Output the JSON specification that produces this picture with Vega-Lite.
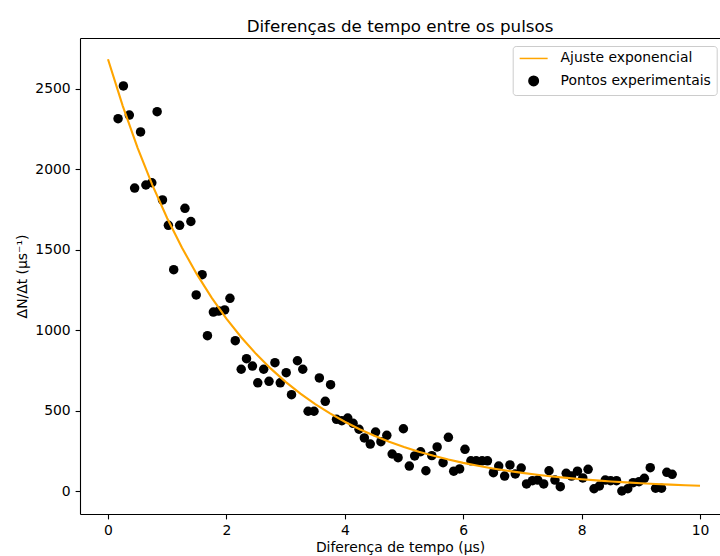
{
  "$schema": "https://vega.github.io/schema/vega-lite/v6.json",
  "autosize": "none",
  "width": 640,
  "height": 476,
  "padding": {"left": 80, "top": 38, "right": 0, "bottom": 42},
  "background": "white",
  "title": {"text": "Diferenças de tempo entre os pulsos", "font": "DejaVu Sans", "fontSize": 16.7, "fontWeight": "normal", "color": "black", "anchor": "middle", "offset": 2.5},
  "config": {
    "view": {"stroke": null},
    "font": "DejaVu Sans",
    "axis": {"grid": false, "domainColor": "black", "domainWidth": 1.1, "tickColor": "black", "tickWidth": 1.1, "tickSize": 4.9, "labelPadding": 4.9, "labelFont": "DejaVu Sans", "labelFontSize": 13.9, "labelColor": "black", "titleFont": "DejaVu Sans", "titleFontSize": 13.9, "titleFontWeight": "normal", "titleColor": "black", "titlePadding": 5.6}
  },
  "datasets": {
    "pontos": [
      {"t": 0.17, "n": 2315, "serie": "Pontos experimentais"},
      {"t": 0.26, "n": 2519, "serie": "Pontos experimentais"},
      {"t": 0.36, "n": 2338, "serie": "Pontos experimentais"},
      {"t": 0.45, "n": 1884, "serie": "Pontos experimentais"},
      {"t": 0.55, "n": 2233, "serie": "Pontos experimentais"},
      {"t": 0.64, "n": 1903, "serie": "Pontos experimentais"},
      {"t": 0.74, "n": 1917, "serie": "Pontos experimentais"},
      {"t": 0.83, "n": 2359, "serie": "Pontos experimentais"},
      {"t": 0.92, "n": 1810, "serie": "Pontos experimentais"},
      {"t": 1.02, "n": 1652, "serie": "Pontos experimentais"},
      {"t": 1.11, "n": 1376, "serie": "Pontos experimentais"},
      {"t": 1.21, "n": 1652, "serie": "Pontos experimentais"},
      {"t": 1.30, "n": 1758, "serie": "Pontos experimentais"},
      {"t": 1.40, "n": 1676, "serie": "Pontos experimentais"},
      {"t": 1.49, "n": 1219, "serie": "Pontos experimentais"},
      {"t": 1.59, "n": 1345, "serie": "Pontos experimentais"},
      {"t": 1.68, "n": 966, "serie": "Pontos experimentais"},
      {"t": 1.78, "n": 1113, "serie": "Pontos experimentais"},
      {"t": 1.87, "n": 1119, "serie": "Pontos experimentais"},
      {"t": 1.97, "n": 1126, "serie": "Pontos experimentais"},
      {"t": 2.06, "n": 1198, "serie": "Pontos experimentais"},
      {"t": 2.15, "n": 935, "serie": "Pontos experimentais"},
      {"t": 2.25, "n": 757, "serie": "Pontos experimentais"},
      {"t": 2.34, "n": 823, "serie": "Pontos experimentais"},
      {"t": 2.44, "n": 777, "serie": "Pontos experimentais"},
      {"t": 2.53, "n": 673, "serie": "Pontos experimentais"},
      {"t": 2.63, "n": 757, "serie": "Pontos experimentais"},
      {"t": 2.72, "n": 682, "serie": "Pontos experimentais"},
      {"t": 2.82, "n": 798, "serie": "Pontos experimentais"},
      {"t": 2.91, "n": 673, "serie": "Pontos experimentais"},
      {"t": 3.01, "n": 736, "serie": "Pontos experimentais"},
      {"t": 3.10, "n": 599, "serie": "Pontos experimentais"},
      {"t": 3.20, "n": 810, "serie": "Pontos experimentais"},
      {"t": 3.29, "n": 757, "serie": "Pontos experimentais"},
      {"t": 3.38, "n": 496, "serie": "Pontos experimentais"},
      {"t": 3.48, "n": 496, "serie": "Pontos experimentais"},
      {"t": 3.57, "n": 703, "serie": "Pontos experimentais"},
      {"t": 3.67, "n": 558, "serie": "Pontos experimentais"},
      {"t": 3.76, "n": 661, "serie": "Pontos experimentais"},
      {"t": 3.86, "n": 446, "serie": "Pontos experimentais"},
      {"t": 3.95, "n": 437, "serie": "Pontos experimentais"},
      {"t": 4.05, "n": 454, "serie": "Pontos experimentais"},
      {"t": 4.14, "n": 421, "serie": "Pontos experimentais"},
      {"t": 4.24, "n": 384, "serie": "Pontos experimentais"},
      {"t": 4.33, "n": 330, "serie": "Pontos experimentais"},
      {"t": 4.43, "n": 292, "serie": "Pontos experimentais"},
      {"t": 4.52, "n": 367, "serie": "Pontos experimentais"},
      {"t": 4.61, "n": 307, "serie": "Pontos experimentais"},
      {"t": 4.71, "n": 346, "serie": "Pontos experimentais"},
      {"t": 4.80, "n": 230, "serie": "Pontos experimentais"},
      {"t": 4.90, "n": 207, "serie": "Pontos experimentais"},
      {"t": 4.99, "n": 387, "serie": "Pontos experimentais"},
      {"t": 5.09, "n": 155, "serie": "Pontos experimentais"},
      {"t": 5.18, "n": 218, "serie": "Pontos experimentais"},
      {"t": 5.28, "n": 244, "serie": "Pontos experimentais"},
      {"t": 5.37, "n": 126, "serie": "Pontos experimentais"},
      {"t": 5.47, "n": 220, "serie": "Pontos experimentais"},
      {"t": 5.56, "n": 274, "serie": "Pontos experimentais"},
      {"t": 5.66, "n": 176, "serie": "Pontos experimentais"},
      {"t": 5.75, "n": 334, "serie": "Pontos experimentais"},
      {"t": 5.84, "n": 123, "serie": "Pontos experimentais"},
      {"t": 5.94, "n": 137, "serie": "Pontos experimentais"},
      {"t": 6.03, "n": 259, "serie": "Pontos experimentais"},
      {"t": 6.13, "n": 188, "serie": "Pontos experimentais"},
      {"t": 6.22, "n": 188, "serie": "Pontos experimentais"},
      {"t": 6.32, "n": 188, "serie": "Pontos experimentais"},
      {"t": 6.41, "n": 188, "serie": "Pontos experimentais"},
      {"t": 6.51, "n": 114, "serie": "Pontos experimentais"},
      {"t": 6.60, "n": 155, "serie": "Pontos experimentais"},
      {"t": 6.70, "n": 93, "serie": "Pontos experimentais"},
      {"t": 6.79, "n": 162, "serie": "Pontos experimentais"},
      {"t": 6.88, "n": 106, "serie": "Pontos experimentais"},
      {"t": 6.98, "n": 143, "serie": "Pontos experimentais"},
      {"t": 7.07, "n": 44, "serie": "Pontos experimentais"},
      {"t": 7.17, "n": 64, "serie": "Pontos experimentais"},
      {"t": 7.26, "n": 68, "serie": "Pontos experimentais"},
      {"t": 7.36, "n": 44, "serie": "Pontos experimentais"},
      {"t": 7.45, "n": 126, "serie": "Pontos experimentais"},
      {"t": 7.55, "n": 68, "serie": "Pontos experimentais"},
      {"t": 7.64, "n": 27, "serie": "Pontos experimentais"},
      {"t": 7.74, "n": 110, "serie": "Pontos experimentais"},
      {"t": 7.83, "n": 93, "serie": "Pontos experimentais"},
      {"t": 7.93, "n": 123, "serie": "Pontos experimentais"},
      {"t": 8.02, "n": 81, "serie": "Pontos experimentais"},
      {"t": 8.11, "n": 135, "serie": "Pontos experimentais"},
      {"t": 8.21, "n": 14, "serie": "Pontos experimentais"},
      {"t": 8.30, "n": 31, "serie": "Pontos experimentais"},
      {"t": 8.40, "n": 68, "serie": "Pontos experimentais"},
      {"t": 8.49, "n": 64, "serie": "Pontos experimentais"},
      {"t": 8.59, "n": 64, "serie": "Pontos experimentais"},
      {"t": 8.68, "n": 0, "serie": "Pontos experimentais"},
      {"t": 8.78, "n": 14, "serie": "Pontos experimentais"},
      {"t": 8.87, "n": 52, "serie": "Pontos experimentais"},
      {"t": 8.97, "n": 58, "serie": "Pontos experimentais"},
      {"t": 9.06, "n": 79, "serie": "Pontos experimentais"},
      {"t": 9.16, "n": 145, "serie": "Pontos experimentais"},
      {"t": 9.25, "n": 17, "serie": "Pontos experimentais"},
      {"t": 9.35, "n": 17, "serie": "Pontos experimentais"},
      {"t": 9.44, "n": 116, "serie": "Pontos experimentais"},
      {"t": 9.53, "n": 104, "serie": "Pontos experimentais"}
    ],
    "ajuste": [
      {"t": 0.0, "n": 2685, "serie": "Ajuste exponencial"},
      {"t": 0.25, "n": 2393.6, "serie": "Ajuste exponencial"},
      {"t": 0.5, "n": 2133.9, "serie": "Ajuste exponencial"},
      {"t": 0.75, "n": 1902.5, "serie": "Ajuste exponencial"},
      {"t": 1.0, "n": 1696.2, "serie": "Ajuste exponencial"},
      {"t": 1.25, "n": 1512.3, "serie": "Ajuste exponencial"},
      {"t": 1.5, "n": 1348.5, "serie": "Ajuste exponencial"},
      {"t": 1.75, "n": 1202.5, "serie": "Ajuste exponencial"},
      {"t": 2.0, "n": 1072.3, "serie": "Ajuste exponencial"},
      {"t": 2.25, "n": 956.3, "serie": "Ajuste exponencial"},
      {"t": 2.5, "n": 853.0, "serie": "Ajuste exponencial"},
      {"t": 2.75, "n": 760.9, "serie": "Ajuste exponencial"},
      {"t": 3.0, "n": 678.7, "serie": "Ajuste exponencial"},
      {"t": 3.25, "n": 605.6, "serie": "Ajuste exponencial"},
      {"t": 3.5, "n": 540.4, "serie": "Ajuste exponencial"},
      {"t": 3.75, "n": 482.2, "serie": "Ajuste exponencial"},
      {"t": 4.0, "n": 430.5, "serie": "Ajuste exponencial"},
      {"t": 4.25, "n": 384.3, "serie": "Ajuste exponencial"},
      {"t": 4.5, "n": 343.1, "serie": "Ajuste exponencial"},
      {"t": 4.75, "n": 306.5, "serie": "Ajuste exponencial"},
      {"t": 5.0, "n": 273.8, "serie": "Ajuste exponencial"},
      {"t": 5.25, "n": 244.7, "serie": "Ajuste exponencial"},
      {"t": 5.5, "n": 218.7, "serie": "Ajuste exponencial"},
      {"t": 5.75, "n": 195.6, "serie": "Ajuste exponencial"},
      {"t": 6.0, "n": 175.0, "serie": "Ajuste exponencial"},
      {"t": 6.25, "n": 156.6, "serie": "Ajuste exponencial"},
      {"t": 6.5, "n": 140.2, "serie": "Ajuste exponencial"},
      {"t": 6.75, "n": 125.6, "serie": "Ajuste exponencial"},
      {"t": 7.0, "n": 112.6, "serie": "Ajuste exponencial"},
      {"t": 7.25, "n": 101.0, "serie": "Ajuste exponencial"},
      {"t": 7.5, "n": 90.7, "serie": "Ajuste exponencial"},
      {"t": 7.75, "n": 81.5, "serie": "Ajuste exponencial"},
      {"t": 8.0, "n": 73.2, "serie": "Ajuste exponencial"},
      {"t": 8.25, "n": 65.9, "serie": "Ajuste exponencial"},
      {"t": 8.5, "n": 59.4, "serie": "Ajuste exponencial"},
      {"t": 8.75, "n": 53.6, "serie": "Ajuste exponencial"},
      {"t": 9.0, "n": 48.4, "serie": "Ajuste exponencial"},
      {"t": 9.25, "n": 43.8, "serie": "Ajuste exponencial"},
      {"t": 9.5, "n": 39.7, "serie": "Ajuste exponencial"},
      {"t": 9.75, "n": 36.0, "serie": "Ajuste exponencial"},
      {"t": 10.0, "n": 32.8, "serie": "Ajuste exponencial"}
    ]
  },
  "layer": [
    {
      "data": {"name": "pontos"},
      "mark": {"type": "point", "filled": true, "size": 90, "opacity": 1},
      "encoding": {
        "x": {"field": "t", "type": "quantitative", "scale": {"domain": [-0.473, 10.338], "nice": false, "zero": false},
              "axis": {"orient": "bottom", "values": [0, 2, 4, 6, 8, 10], "title": "Diferença de tempo (μs)", "titlePadding": 3}},
        "y": {"field": "n", "type": "quantitative", "scale": {"domain": [-143, 2817], "nice": false, "zero": false},
              "axis": {"values": [0, 500, 1000, 1500, 2000, 2500], "format": "d", "title": "ΔN/Δt (μs⁻¹)"}},
        "color": {"field": "serie", "type": "nominal",
                  "scale": {"domain": ["Ajuste exponencial", "Pontos experimentais"], "range": ["orange", "black"]},
                  "legend": {"title": null, "orient": "none", "legendX": 432.7, "legendY": 8, "padding": 5.5,
                             "strokeColor": "#cccccc", "fillColor": "white", "cornerRadius": 3,
                             "labelFont": "DejaVu Sans", "labelFontSize": 13.9, "labelColor": "black",
                             "symbolSize": 90, "symbolOffset": 8.5, "labelOffset": 20, "rowPadding": 7.5,
                             "encode": {"symbols": {"update": {
                               "stroke": {"signal": "datum.value === 'Ajuste exponencial' ? 'orange' : 'black'"},
                               "fill": {"signal": "datum.value === 'Ajuste exponencial' ? 'transparent' : 'black'"},
                               "strokeWidth": {"signal": "datum.value === 'Ajuste exponencial' ? 2.1 : 0"},
                               "opacity": {"value": 1}}}}}},
        "shape": {"field": "serie", "type": "nominal",
                  "scale": {"domain": ["Ajuste exponencial", "Pontos experimentais"], "range": ["M-2.95,0H2.95", "circle"]}}
      }
    },
    {
      "data": {"name": "ajuste"},
      "mark": {"type": "line", "strokeWidth": 2.1},
      "encoding": {
        "x": {"field": "t", "type": "quantitative",
              "axis": {"orient": "top", "labels": false, "ticks": false, "title": null, "domain": true}},
        "y": {"field": "n", "type": "quantitative",
              "axis": {"values": [0, 500, 1000, 1500, 2000, 2500], "format": "d", "title": "ΔN/Δt (μs⁻¹)"}},
        "color": {"field": "serie", "type": "nominal", "legend": null}
      }
    }
  ],
  "resolve": {"axis": {"x": "independent"}}
}
